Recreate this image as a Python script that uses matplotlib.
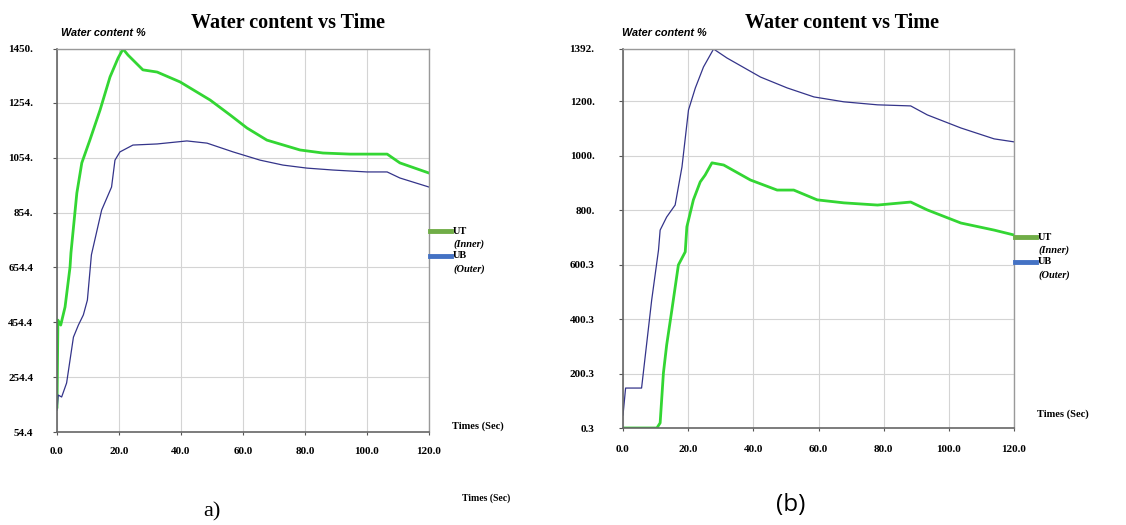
import numpy as np
import matplotlib.pyplot as plt
from matplotlib.lines import Line2D

# panel a) data (time in s, water content %)
t_ut_a = [0, 0.3, 1.2, 2.6, 4.2, 4.5, 6.4, 8.0, 10.6, 13.9, 17.1, 19.7, 21.3, 22.9,
          27.7, 32.3, 39.7, 49.4, 55.8, 61.3, 67.7, 78.4, 85.8, 94.5, 106.5, 110.6, 120]
ut_a = [145, 462, 444, 510, 655, 707, 925, 1035, 1118, 1228, 1348, 1417, 1450, 1428,
        1374, 1366, 1330, 1264, 1210, 1162, 1118, 1082, 1071, 1067, 1067, 1035, 998]
t_ub_a = [0, 0.4, 1.5, 3.1, 5.3, 6.9, 8.5, 9.8, 11.1, 14.4, 17.6, 18.7, 20.3, 24.5,
          32.3, 41.9, 48.4, 56.8, 65.5, 72.9, 80.6, 89, 100, 106.5, 110.6, 120]
ub_a = [134, 189, 182, 233, 400, 444, 481, 535, 700, 863, 947, 1045, 1075, 1100,
        1104, 1115, 1107, 1075, 1045, 1027, 1016, 1009, 1002, 1002, 980, 947]

# panel (b) data
t_ut_b = [0, 10.4, 11.4, 12.4, 13.4, 15.0, 17.0, 19.1, 19.6, 21.6, 23.7, 25.2, 27.3,
          30.9, 39.1, 47.3, 52.4, 59.6, 67.8, 78.1, 88.3, 93.4, 103.7, 113.9, 120]
ut_b = [0.3, 0.3, 19, 202, 305, 434, 599, 647, 739, 838, 904, 929, 974,
        966, 911, 874, 874, 838, 827, 819, 830, 801, 753, 727, 709]
t_ub_b = [0, 0.8, 5.7, 8.8, 10.9, 11.4, 13.4, 16.0, 18.1, 20.1, 22.2, 24.7, 27.8,
          31.9, 42.2, 50.4, 58.6, 67.8, 78.1, 88.3, 93.4, 103.7, 113.9, 120]
ub_b = [48, 147, 147, 470, 654, 727, 775, 819, 959, 1168, 1249, 1326, 1392,
        1359, 1289, 1249, 1216, 1198, 1187, 1183, 1150, 1102, 1062, 1051]

xticks = [0, 20, 40, 60, 80, 100, 120]
xlabels = ["0.0", "20.0", "40.0", "60.0", "80.0", "100.0", "120.0"]
yticks_a = [54.4, 254.4, 454.4, 654.4, 854, 1054, 1254, 1450]
ylabels_a = ["54.4", "254.4", "454.4", "654.4", "854.", "1054.", "1254.", "1450."]
yticks_b = [0.3, 200.3, 400.3, 600.3, 800, 1000, 1200, 1392]
ylabels_b = ["0.3", "200.3", "400.3", "600.3", "800.", "1000.", "1200.", "1392."]

W, H = 1126, 525
fig = plt.figure(figsize=(W / 100, H / 100), dpi=100)
serif = "Liberation Serif"


def fx(px):
    return px / W


def fy(py):
    return 1 - py / H


def panel(x0, x1, y0, y1, yticks, ylabels, t_ut, ut, t_ub, ub, ypad, xpad):
    ax = fig.add_axes([fx(x0), fy(y1), fx(x1 - x0), (y1 - y0) / H])
    ax.plot(t_ut, ut, color="#33d633", lw=2.0)
    ax.plot(t_ub, ub, color="#34348a", lw=0.9)
    ax.set_xlim(0, 120)
    ax.set_ylim(yticks[0], yticks[-1])
    ax.set_xticks(xticks)
    ax.set_xticklabels(xlabels)
    ax.set_yticks(yticks)
    ax.set_yticklabels(ylabels)
    for lab in ax.get_xticklabels() + ax.get_yticklabels():
        lab.set_fontfamily(serif)
        lab.set_fontweight("bold")
        lab.set_fontsize(8)
    ax.tick_params(axis="x", length=2, pad=xpad, color="#555555")
    ax.tick_params(axis="y", length=3, pad=ypad, color="#555555")
    ax.grid(True, color="#d4d4d4", lw=0.8)
    for s in ["left", "bottom"]:
        ax.spines[s].set_color("#666666")
        ax.spines[s].set_linewidth(1.2)
    for s in ["top", "right"]:
        ax.spines[s].set_color("#999999")
        ax.spines[s].set_linewidth(1.0)
    return ax


panel(57, 429, 49, 432, yticks_a, ylabels_a, t_ut_a, ut_a, t_ub_a, ub_a, 14, 9)
panel(623, 1014, 49, 428, yticks_b, ylabels_b, t_ut_b, ut_b, t_ub_b, ub_b, 17.5, 10)


def labels(title_x, ylab_x, leg_x, leg_y, times_y):
    fig.text(fx(title_x), fy(23), "Water content vs Time", ha="center", va="center",
             family=serif, weight="bold", fontsize=14.5)
    fig.text(fx(ylab_x), fy(33), "Water content %", ha="left", va="center",
             family="Liberation Sans", weight="bold", style="italic", fontsize=7.8)
    fig.add_artist(Line2D([fx(leg_x), fx(leg_x + 21)], [fy(leg_y), fy(leg_y)],
                          color="#70ad47", lw=3.5, transform=fig.transFigure))
    fig.add_artist(Line2D([fx(leg_x), fx(leg_x + 21)], [fy(leg_y + 25), fy(leg_y + 25)],
                          color="#4472c4", lw=3.5, transform=fig.transFigure))
    fig.text(fx(leg_x + 23), fy(leg_y), "UT", va="center", family=serif,
             weight="bold", fontsize=7.5)
    fig.text(fx(leg_x + 23), fy(leg_y + 13), "(Inner)", va="center", family=serif,
             weight="bold", style="italic", fontsize=7.5)
    fig.text(fx(leg_x + 23), fy(leg_y + 25), "UB", va="center", family=serif,
             weight="bold", fontsize=7.5)
    fig.text(fx(leg_x + 23), fy(leg_y + 38), "(Outer)", va="center", family=serif,
             weight="bold", style="italic", fontsize=7.5)
    fig.text(fx(leg_x + 22), fy(times_y), "Times (Sec)", va="center", family=serif,
             weight="bold", fontsize=7.5)


labels(288, 61, 430, 231, 426)
labels(842, 622, 1015, 237, 414)

fig.text(fx(462), fy(498), "Times (Sec)", va="center", family=serif,
         weight="bold", fontsize=7)
fig.text(fx(212), fy(512), "a)", ha="center", va="center", family=serif, fontsize=16)
fig.text(fx(791), fy(505), "(b)", ha="center", va="center", family="Open Sans",
         fontsize=17.5)

fig.savefig("out.png", dpi=100)
